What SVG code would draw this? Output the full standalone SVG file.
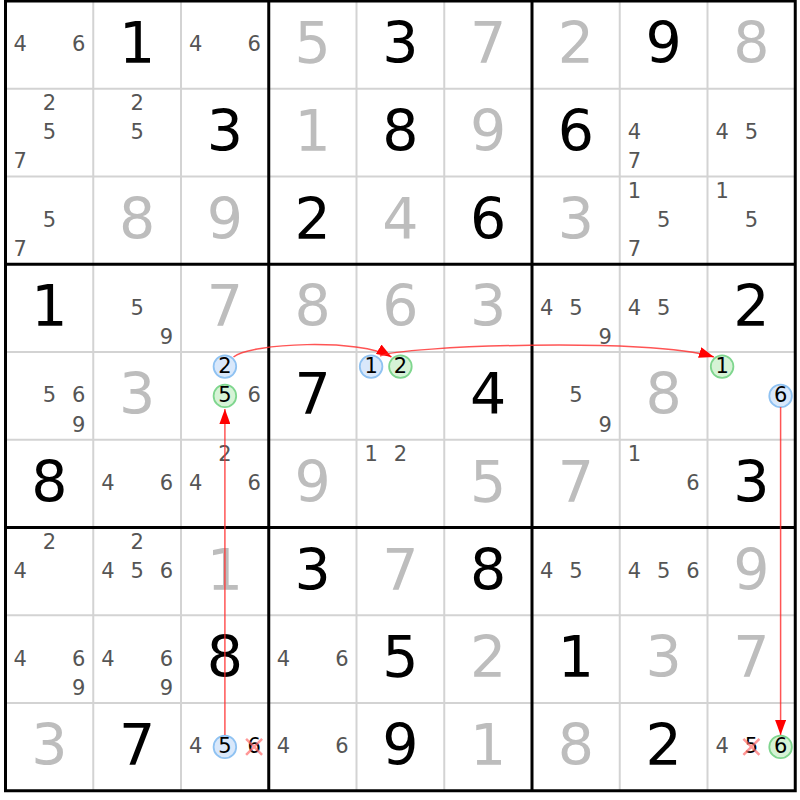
<svg xmlns="http://www.w3.org/2000/svg" width="800" height="800" viewBox="0 0 800 800">
<style>
text{font-family:"DejaVu Sans","Liberation Sans",sans-serif;text-anchor:middle}
.g{font-size:57px;fill:#000}
.s{font-size:57px;fill:#bdbdbd}
.c{font-size:21px;fill:#555}
.k{font-size:21px;fill:#000}
.thin{stroke:#d3d3d3;stroke-width:2;fill:none}
.thick{stroke:#000;stroke-width:3;fill:none}
.cb{fill:#d9e8fb;stroke:#8fc2f2;stroke-width:1.8}
.cg{fill:#d6f3d6;stroke:#7fd68e;stroke-width:1.8}
.x{stroke:#ff6b6b;stroke-opacity:0.7;stroke-width:2.5}
.ln{fill:none;stroke:#ff2a2a;stroke-opacity:0.8;stroke-width:1.5}
</style>
<defs>
<marker id="ah" markerUnits="userSpaceOnUse" markerWidth="15" markerHeight="11" refX="15" refY="5.5" orient="auto">
<path d="M0,0 L15,5.5 L0,11 Z" fill="#ff0000"/>
</marker>
</defs>
<rect width="800" height="800" fill="#fff"/>
<g id="grid">
<path class="thin" d="M93.25,1V790.75M181,1V790.75M356.5,1V790.75M444.25,1V790.75M619.75,1V790.75M707.5,1V790.75M5.5,88.75H795.25M5.5,176.5H795.25M5.5,352H795.25M5.5,439.75H795.25M5.5,615.25H795.25M5.5,703H795.25"/>
<path class="thick" d="M268.75,1V790.75M532,1V790.75M5.5,264.25H795.25M5.5,527.5H795.25"/>
<rect class="thick" x="5.5" y="1" width="789.75" height="789.75"/>
</g>
<g id="cells">
<!-- row 0 -->
<g id="r0c0" transform="translate(5.5,1)"><text class="c" x="14.6" y="50.4">4</text><text class="c" x="73.1" y="50.4">6</text></g>
<g id="r0c1" transform="translate(93.25,1)"><text class="g" x="43.9" y="62">1</text></g>
<g id="r0c2" transform="translate(181,1)"><text class="c" x="14.6" y="50.4">4</text><text class="c" x="73.1" y="50.4">6</text></g>
<g id="r0c3" transform="translate(268.75,1)"><text class="s" x="43.9" y="62">5</text></g>
<g id="r0c4" transform="translate(356.5,1)"><text class="g" x="43.9" y="62">3</text></g>
<g id="r0c5" transform="translate(444.25,1)"><text class="s" x="43.9" y="62">7</text></g>
<g id="r0c6" transform="translate(532,1)"><text class="s" x="43.9" y="62">2</text></g>
<g id="r0c7" transform="translate(619.75,1)"><text class="g" x="43.9" y="62">9</text></g>
<g id="r0c8" transform="translate(707.5,1)"><text class="s" x="43.9" y="62">8</text></g>
<!-- row 1 -->
<g id="r1c0" transform="translate(5.5,88.75)"><text class="c" x="43.9" y="21.2">2</text><text class="c" x="43.9" y="50.4">5</text><text class="c" x="14.6" y="79.7">7</text></g>
<g id="r1c1" transform="translate(93.25,88.75)"><text class="c" x="43.9" y="21.2">2</text><text class="c" x="43.9" y="50.4">5</text></g>
<g id="r1c2" transform="translate(181,88.75)"><text class="g" x="43.9" y="62">3</text></g>
<g id="r1c3" transform="translate(268.75,88.75)"><text class="s" x="43.9" y="62">1</text></g>
<g id="r1c4" transform="translate(356.5,88.75)"><text class="g" x="43.9" y="62">8</text></g>
<g id="r1c5" transform="translate(444.25,88.75)"><text class="s" x="43.9" y="62">9</text></g>
<g id="r1c6" transform="translate(532,88.75)"><text class="g" x="43.9" y="62">6</text></g>
<g id="r1c7" transform="translate(619.75,88.75)"><text class="c" x="14.6" y="50.4">4</text><text class="c" x="14.6" y="79.7">7</text></g>
<g id="r1c8" transform="translate(707.5,88.75)"><text class="c" x="14.6" y="50.4">4</text><text class="c" x="43.9" y="50.4">5</text></g>
<!-- row 2 -->
<g id="r2c0" transform="translate(5.5,176.5)"><text class="c" x="43.9" y="50.4">5</text><text class="c" x="14.6" y="79.7">7</text></g>
<g id="r2c1" transform="translate(93.25,176.5)"><text class="s" x="43.9" y="62">8</text></g>
<g id="r2c2" transform="translate(181,176.5)"><text class="s" x="43.9" y="62">9</text></g>
<g id="r2c3" transform="translate(268.75,176.5)"><text class="g" x="43.9" y="62">2</text></g>
<g id="r2c4" transform="translate(356.5,176.5)"><text class="s" x="43.9" y="62">4</text></g>
<g id="r2c5" transform="translate(444.25,176.5)"><text class="g" x="43.9" y="62">6</text></g>
<g id="r2c6" transform="translate(532,176.5)"><text class="s" x="43.9" y="62">3</text></g>
<g id="r2c7" transform="translate(619.75,176.5)"><text class="c" x="14.6" y="21.2">1</text><text class="c" x="43.9" y="50.4">5</text><text class="c" x="14.6" y="79.7">7</text></g>
<g id="r2c8" transform="translate(707.5,176.5)"><text class="c" x="14.6" y="21.2">1</text><text class="c" x="43.9" y="50.4">5</text></g>
<!-- row 3 -->
<g id="r3c0" transform="translate(5.5,264.25)"><text class="g" x="43.9" y="62">1</text></g>
<g id="r3c1" transform="translate(93.25,264.25)"><text class="c" x="43.9" y="50.4">5</text><text class="c" x="73.1" y="79.7">9</text></g>
<g id="r3c2" transform="translate(181,264.25)"><text class="s" x="43.9" y="62">7</text></g>
<g id="r3c3" transform="translate(268.75,264.25)"><text class="s" x="43.9" y="62">8</text></g>
<g id="r3c4" transform="translate(356.5,264.25)"><text class="s" x="43.9" y="62">6</text></g>
<g id="r3c5" transform="translate(444.25,264.25)"><text class="s" x="43.9" y="62">3</text></g>
<g id="r3c6" transform="translate(532,264.25)"><text class="c" x="14.6" y="50.4">4</text><text class="c" x="43.9" y="50.4">5</text><text class="c" x="73.1" y="79.7">9</text></g>
<g id="r3c7" transform="translate(619.75,264.25)"><text class="c" x="14.6" y="50.4">4</text><text class="c" x="43.9" y="50.4">5</text></g>
<g id="r3c8" transform="translate(707.5,264.25)"><text class="g" x="43.9" y="62">2</text></g>
<!-- row 4 -->
<g id="r4c0" transform="translate(5.5,352)"><text class="c" x="43.9" y="50.4">5</text><text class="c" x="73.1" y="50.4">6</text><text class="c" x="73.1" y="79.7">9</text></g>
<g id="r4c1" transform="translate(93.25,352)"><text class="s" x="43.9" y="62">3</text></g>
<g id="r4c2" transform="translate(181,352)"><circle class="cb" cx="43.9" cy="14.6" r="11.3"/><text class="k" x="43.9" y="21.2">2</text><circle class="cg" cx="43.9" cy="43.9" r="11.3"/><text class="k" x="43.9" y="50.4">5</text><text class="c" x="73.1" y="50.4">6</text></g>
<g id="r4c3" transform="translate(268.75,352)"><text class="g" x="43.9" y="62">7</text></g>
<g id="r4c4" transform="translate(356.5,352)"><circle class="cb" cx="14.6" cy="14.6" r="11.3"/><text class="k" x="14.6" y="21.2">1</text><circle class="cg" cx="43.9" cy="14.6" r="11.3"/><text class="k" x="43.9" y="21.2">2</text></g>
<g id="r4c5" transform="translate(444.25,352)"><text class="g" x="43.9" y="62">4</text></g>
<g id="r4c6" transform="translate(532,352)"><text class="c" x="43.9" y="50.4">5</text><text class="c" x="73.1" y="79.7">9</text></g>
<g id="r4c7" transform="translate(619.75,352)"><text class="s" x="43.9" y="62">8</text></g>
<g id="r4c8" transform="translate(707.5,352)"><circle class="cg" cx="14.6" cy="14.6" r="11.3"/><text class="k" x="14.6" y="21.2">1</text><circle class="cb" cx="73.1" cy="43.9" r="11.3"/><text class="k" x="73.1" y="50.4">6</text></g>
<!-- row 5 -->
<g id="r5c0" transform="translate(5.5,439.75)"><text class="g" x="43.9" y="62">8</text></g>
<g id="r5c1" transform="translate(93.25,439.75)"><text class="c" x="14.6" y="50.4">4</text><text class="c" x="73.1" y="50.4">6</text></g>
<g id="r5c2" transform="translate(181,439.75)"><text class="c" x="43.9" y="21.2">2</text><text class="c" x="14.6" y="50.4">4</text><text class="c" x="73.1" y="50.4">6</text></g>
<g id="r5c3" transform="translate(268.75,439.75)"><text class="s" x="43.9" y="62">9</text></g>
<g id="r5c4" transform="translate(356.5,439.75)"><text class="c" x="14.6" y="21.2">1</text><text class="c" x="43.9" y="21.2">2</text></g>
<g id="r5c5" transform="translate(444.25,439.75)"><text class="s" x="43.9" y="62">5</text></g>
<g id="r5c6" transform="translate(532,439.75)"><text class="s" x="43.9" y="62">7</text></g>
<g id="r5c7" transform="translate(619.75,439.75)"><text class="c" x="14.6" y="21.2">1</text><text class="c" x="73.1" y="50.4">6</text></g>
<g id="r5c8" transform="translate(707.5,439.75)"><text class="g" x="43.9" y="62">3</text></g>
<!-- row 6 -->
<g id="r6c0" transform="translate(5.5,527.5)"><text class="c" x="43.9" y="21.2">2</text><text class="c" x="14.6" y="50.4">4</text></g>
<g id="r6c1" transform="translate(93.25,527.5)"><text class="c" x="43.9" y="21.2">2</text><text class="c" x="14.6" y="50.4">4</text><text class="c" x="43.9" y="50.4">5</text><text class="c" x="73.1" y="50.4">6</text></g>
<g id="r6c2" transform="translate(181,527.5)"><text class="s" x="43.9" y="62">1</text></g>
<g id="r6c3" transform="translate(268.75,527.5)"><text class="g" x="43.9" y="62">3</text></g>
<g id="r6c4" transform="translate(356.5,527.5)"><text class="s" x="43.9" y="62">7</text></g>
<g id="r6c5" transform="translate(444.25,527.5)"><text class="g" x="43.9" y="62">8</text></g>
<g id="r6c6" transform="translate(532,527.5)"><text class="c" x="14.6" y="50.4">4</text><text class="c" x="43.9" y="50.4">5</text></g>
<g id="r6c7" transform="translate(619.75,527.5)"><text class="c" x="14.6" y="50.4">4</text><text class="c" x="43.9" y="50.4">5</text><text class="c" x="73.1" y="50.4">6</text></g>
<g id="r6c8" transform="translate(707.5,527.5)"><text class="s" x="43.9" y="62">9</text></g>
<!-- row 7 -->
<g id="r7c0" transform="translate(5.5,615.25)"><text class="c" x="14.6" y="50.4">4</text><text class="c" x="73.1" y="50.4">6</text><text class="c" x="73.1" y="79.7">9</text></g>
<g id="r7c1" transform="translate(93.25,615.25)"><text class="c" x="14.6" y="50.4">4</text><text class="c" x="73.1" y="50.4">6</text><text class="c" x="73.1" y="79.7">9</text></g>
<g id="r7c2" transform="translate(181,615.25)"><text class="g" x="43.9" y="62">8</text></g>
<g id="r7c3" transform="translate(268.75,615.25)"><text class="c" x="14.6" y="50.4">4</text><text class="c" x="73.1" y="50.4">6</text></g>
<g id="r7c4" transform="translate(356.5,615.25)"><text class="g" x="43.9" y="62">5</text></g>
<g id="r7c5" transform="translate(444.25,615.25)"><text class="s" x="43.9" y="62">2</text></g>
<g id="r7c6" transform="translate(532,615.25)"><text class="g" x="43.9" y="62">1</text></g>
<g id="r7c7" transform="translate(619.75,615.25)"><text class="s" x="43.9" y="62">3</text></g>
<g id="r7c8" transform="translate(707.5,615.25)"><text class="s" x="43.9" y="62">7</text></g>
<!-- row 8 -->
<g id="r8c0" transform="translate(5.5,703)"><text class="s" x="43.9" y="62">3</text></g>
<g id="r8c1" transform="translate(93.25,703)"><text class="g" x="43.9" y="62">7</text></g>
<g id="r8c2" transform="translate(181,703)"><text class="c" x="14.6" y="50.4">4</text><circle class="cb" cx="43.9" cy="43.9" r="11.3"/><text class="k" x="43.9" y="50.4">5</text><text class="k" x="73.1" y="50.4">6</text><path class="x" d="M65.1,35.9L81.1,51.9M81.1,35.9L65.1,51.9"/></g>
<g id="r8c3" transform="translate(268.75,703)"><text class="c" x="14.6" y="50.4">4</text><text class="c" x="73.1" y="50.4">6</text></g>
<g id="r8c4" transform="translate(356.5,703)"><text class="g" x="43.9" y="62">9</text></g>
<g id="r8c5" transform="translate(444.25,703)"><text class="s" x="43.9" y="62">1</text></g>
<g id="r8c6" transform="translate(532,703)"><text class="s" x="43.9" y="62">8</text></g>
<g id="r8c7" transform="translate(619.75,703)"><text class="g" x="43.9" y="62">2</text></g>
<g id="r8c8" transform="translate(707.5,703)"><text class="c" x="14.6" y="50.4">4</text><text class="k" x="43.9" y="50.4">5</text><path class="x" d="M35.9,35.9L51.9,51.9M51.9,35.9L35.9,51.9"/><circle class="cg" cx="73.1" cy="43.9" r="11.3"/><text class="k" x="73.1" y="50.4">6</text></g>
</g>
<g id="connectors">
<path class="ln" d="M224.9,735V409" marker-end="url(#ah)"/>
<path class="ln" d="M233.5,357C250,343 360,338 391.5,357" marker-end="url(#ah)"/>
<path class="ln" d="M380,356C400,346 650,337 714,357" marker-end="url(#ah)"/>
<path class="ln" d="M780.6,407V735" marker-end="url(#ah)"/>
</g>
</svg>
